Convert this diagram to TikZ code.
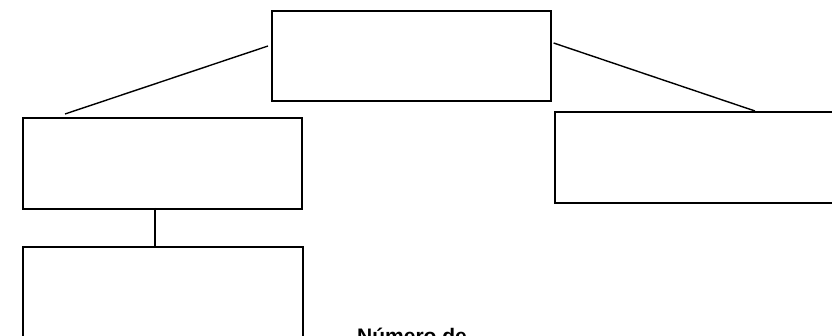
\documentclass[tikz,border=0pt]{standalone}
\usepackage{fontspec}
\setmainfont{Liberation Sans}
\begin{document}
\begin{tikzpicture}[x=1pt,y=-1pt,
  box/.style={draw=black,line width=1.6pt,fill=white,inner sep=0pt,anchor=north west},
  link/.style={draw=black,line width=1.4pt}]
\useasboundingbox (0,0) rectangle (832,336);
\clip (0,0) rectangle (832,336);
\node[box,minimum width=279pt,minimum height=90pt] (top) at (271,10) {};
\node[box,minimum width=279pt,minimum height=91pt] (left) at (22,117) {};
\node[box,minimum width=300pt,minimum height=91pt] (right) at (554,111) {};
\node[box,minimum width=280pt,minimum height=120pt] (bottom) at (22,246) {};
\coordinate (lA) at (65,114);
\coordinate (rA) at (755,111);
\draw[link] (top.west |- 0,46) ++(-3,0) coordinate (tl) -- (lA);
\draw[link] (top.east |- 0,43) ++(2,0) coordinate (tr) -- (rA);
\draw[draw=black,line width=2.2pt] (155,208) coordinate (v1) -- (155,248) coordinate (v2);
\node[anchor=base west,inner sep=0pt,font=\bfseries\fontsize{21}{24}\selectfont,xscale=1.0] (txt) at (357,343) {Número de};
\end{tikzpicture}
\end{document}
